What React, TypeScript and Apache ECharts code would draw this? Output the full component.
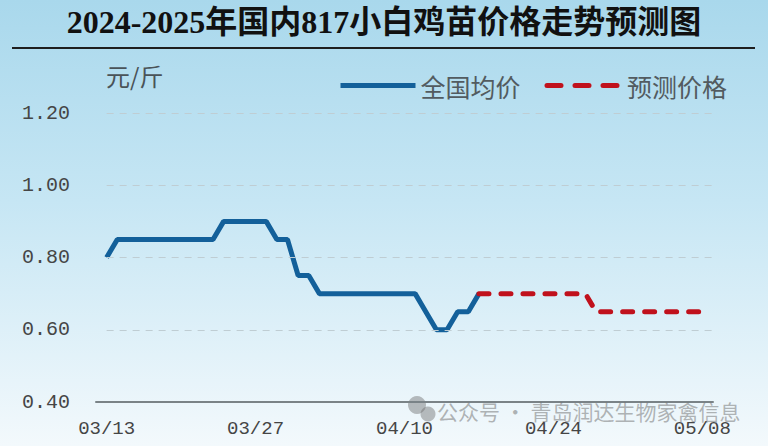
import { useEffect, useRef } from 'react'
import * as echarts from 'echarts'

// 日期从 03/12 到 05/09，两端各留一格空白，让轴线比数据长一点
const startDay = Date.UTC(2025, 2, 12)
const dates: string[] = []
for (let i = 0; i < 59; i++) {
  const d = new Date(startDay + i * 86400000)
  dates.push(`${String(d.getUTCMonth() + 1).padStart(2, '0')}/${String(d.getUTCDate()).padStart(2, '0')}`)
}

// 03/13 - 04/17 全国均价
const actualPrices = [
  0.8,
  0.85, 0.85, 0.85, 0.85, 0.85, 0.85, 0.85, 0.85, 0.85, 0.85,
  0.9, 0.9, 0.9, 0.9, 0.9,
  0.85, 0.85,
  0.75, 0.75,
  0.7, 0.7, 0.7, 0.7, 0.7, 0.7, 0.7, 0.7, 0.7, 0.7,
  0.65,
  0.6, 0.6,
  0.65, 0.65,
  0.7,
]

// 04/17 - 05/08 预测价格
const forecastPrices = [
  0.7, 0.7, 0.7, 0.7, 0.7, 0.7, 0.7, 0.7, 0.7, 0.7, 0.7,
  0.65, 0.65, 0.65, 0.65, 0.65, 0.65, 0.65, 0.65, 0.65, 0.65, 0.65,
]

const gridValues = [0.6, 0.8, 1.0, 1.2]

const actualData = [null, ...actualPrices, ...Array(dates.length - 1 - actualPrices.length).fill(null)]
const forecastData = [
  ...Array(actualPrices.length).fill(null),
  ...forecastPrices,
  ...Array(dates.length - actualPrices.length - forecastPrices.length).fill(null),
]

const monoFont = "'Liberation Mono', 'DejaVu Sans Mono', monospace"
const cjkFont = "'Noto Sans CJK SC', sans-serif"

export default function App() {
  const chartRef = useRef<HTMLDivElement>(null)

  useEffect(() => {
    document.body.style.margin = '0'
    if (!chartRef.current) return
    const chart = echarts.init(chartRef.current, null, { renderer: 'svg' })

    chart.setOption({
      animation: false,
      title: {
        text: '2024-2025年国内817小白鸡苗价格走势预测图',
        left: 'center',
        top: 6,
        padding: 0,
        textStyle: {
          fontFamily: "'Liberation Serif', 'Noto Sans CJK SC', serif",
          fontWeight: 'bold',
          fontSize: 32,
          color: '#111',
        },
      },
      legend: {
        left: 333,
        top: 68,
        itemWidth: 75,
        itemHeight: 20,
        itemGap: 24,
        itemStyle: { opacity: 0 },
        lineStyle: { width: 5 },
        textStyle: { fontFamily: cjkFont, fontSize: 25, color: '#525b60' },
        data: [
          { name: '全国均价' },
          { name: '预测价格', lineStyle: { width: 5, type: [14, 14], cap: 'round' } },
        ],
      },
      grid: { left: 96, right: 55, top: 113, bottom: 44 },
      xAxis: {
        type: 'category',
        data: dates,
        boundaryGap: false,
        axisLine: { lineStyle: { color: '#7a8387', width: 2 } },
        axisTick: { show: false },
        axisLabel: {
          interval: (idx: number) => (idx - 1) % 14 === 0,
          fontFamily: monoFont,
          fontSize: 19,
          color: '#454545',
          margin: 17,
        },
        splitLine: { show: false },
      },
      yAxis: {
        type: 'value',
        min: 0.4,
        max: 1.2,
        interval: 0.2,
        axisLine: { show: false },
        axisTick: { show: false },
        splitLine: { show: false },
        axisLabel: {
          formatter: (v: number) => v.toFixed(2),
          fontFamily: monoFont,
          fontSize: 20,
          color: '#454545',
          margin: 26,
        },
      },
      graphic: [
        {
          type: 'line',
          shape: { x1: 12, y1: 48, x2: 755, y2: 48 },
          style: { stroke: '#1e1e1e', lineWidth: 2 },
        },
        {
          type: 'text',
          x: 106,
          y: 63,
          style: { text: '元/斤', font: `24px ${cjkFont}`, fill: '#4a5358' },
        },
        {
          type: 'circle',
          shape: { cx: 417, cy: 405, r: 9 },
          style: { fill: 'rgba(110,110,110,0.45)' },
        },
        {
          type: 'circle',
          shape: { cx: 428, cy: 414, r: 7.5 },
          style: { fill: 'rgba(110,110,110,0.45)' },
        },
        {
          type: 'text',
          x: 437,
          y: 400,
          z: 10,
          style: {
            text: '公众号 · 青岛润达生物家禽信息',
            font: `21px ${cjkFont}`,
            fill: 'rgba(110,110,110,0.5)',
          },
        },
      ],
      series: [
        {
          name: '全国均价',
          type: 'line',
          data: actualData,
          symbol: 'none',
          color: '#13609a',
          lineStyle: { width: 5, color: '#13609a' },
          z: 3,
          markLine: {
            silent: true,
            symbol: 'none',
            label: { show: false },
            lineStyle: { type: [7, 6], color: '#bfcdd3', width: 1 },
            data: gridValues.map((v) => [{ coord: [1, v] }, { coord: [58, v] }]),
          },
        },
        {
          name: '预测价格',
          type: 'line',
          data: forecastData,
          symbol: 'none',
          color: '#c0111c',
          lineStyle: { width: 5, color: '#c0111c', type: [10, 12], cap: 'round' },
          z: 4,
        },
      ],
    })

    return () => {
      chart.dispose()
    }
  }, [])

  return (
    <div
      ref={chartRef}
      style={{
        width: 768,
        height: 446,
        background: 'linear-gradient(180deg, #a9d8ec 0%, #c6e6f4 45%, #f3f9fc 100%)',
      }}
    />
  )
}
